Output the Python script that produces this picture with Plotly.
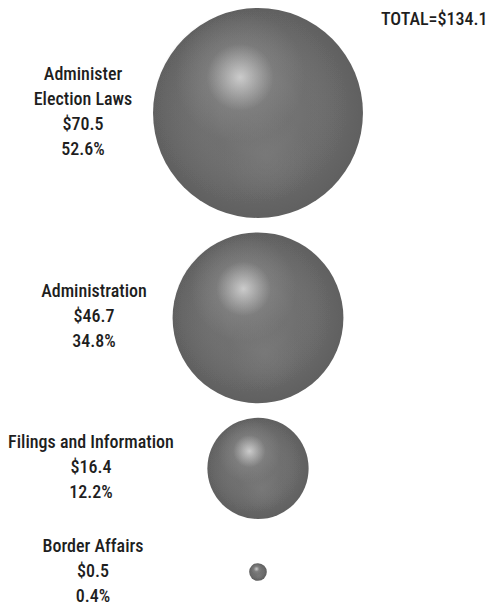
import plotly.graph_objects as go
import numpy as np

# ---- data ----
categories = ["Administer<br>Election Laws", "Administration", "Filings and Information", "Border Affairs"]
amounts = [70.5, 46.7, 16.4, 0.5]
shares = [52.6, 34.8, 12.2, 0.4]
total = 134.1

# ---- layout constants ----
W, H = 490, 607
scale = 25.0          # px diameter per sqrt($)  (area proportional to value)
gap = 14.5
min_half = 38.5
top = 8
x_sphere = 258
label_x = [83, 94, 91, 93]
line_h = 25
FONT = "Roboto Condensed, DejaVu Sans Condensed, sans-serif"

diam = [scale * np.sqrt(v) for v in amounts]
r = [d / 2 for d in diam]
ys = []
cur = top
for d in diam:
    half = max(d / 2, min_half)
    cur += half
    ys.append(cur)
    cur += half + gap

n = len(amounts)
fig = go.Figure()


def sphere_layer(dx, dy, size_f, outer, center):
    fig.add_trace(go.Scatter(
        x=[x_sphere + dx * ri for ri in r],
        y=[y + dy * ri for y, ri in zip(ys, r)],
        mode="markers", hoverinfo="skip",
        marker=dict(size=[size_f * d for d in diam], color=outer, line=dict(width=0),
                    gradient=dict(type="radial", color=center))))


# dark base
sphere_layer(0, 0, 1.0, "#1c1c1c", "#454545")
# body (stacked for a sharper rim falloff), shifted up-left
for _ in range(3):
    sphere_layer(-0.07, -0.06, 0.93, "rgba(112,112,112,0)", "rgba(114,114,114,1)")
# soft secondary reflection lower area
sphere_layer(0.08, 0.42, 0.42, "rgba(128,128,128,0)", "rgba(132,132,132,0.55)")
# main highlight upper-left
sphere_layer(-0.17, -0.34, 0.62, "rgba(170,170,170,0)", "rgba(175,175,175,0.6)")
sphere_layer(-0.17, -0.34, 0.32, "rgba(215,215,215,0)", "rgba(235,235,235,0.95)")

# labels, one text point per line
lx, ly, lt = [], [], []
for i in range(n):
    lines = categories[i].split("<br>") + [f"${amounts[i]}", f"{shares[i]}%"]
    m = len(lines)
    for k, t in enumerate(lines):
        lx.append(label_x[i])
        ly.append(ys[i] + (k - (m - 1) / 2) * line_h)
        lt.append(t)

fig.add_trace(go.Scatter(
    x=lx, y=ly, mode="text", text=lt, textposition="middle center", hoverinfo="skip",
    textfont=dict(family=FONT, size=18, color="#1e1e1e", weight=500)))

fig.add_annotation(xref="paper", yref="paper", x=0.997, y=0.99, xanchor="right", yanchor="top",
                   text=f"TOTAL=${total}", showarrow=False,
                   font=dict(family=FONT, size=18, color="#1e1e1e", weight=500))

fig.update_layout(
    width=W, height=H, margin=dict(l=0, r=0, t=0, b=0),
    paper_bgcolor="white", plot_bgcolor="white", showlegend=False,
    xaxis=dict(range=[0, W], visible=False, fixedrange=True),
    yaxis=dict(range=[H, 0], visible=False, fixedrange=True),
)

fig.write_html("out.html", config={"displayModeBar": False},
               post_script="document.body.style.margin='0';")
